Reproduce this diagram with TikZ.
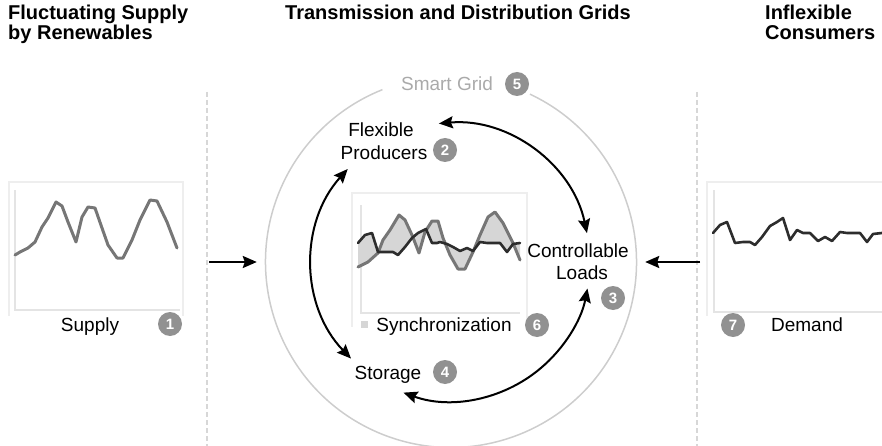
\documentclass[tikz,border=0pt]{standalone}
\usepackage{fontspec}
\setmainfont{Liberation Sans}
\usetikzlibrary{arrows.meta}
\definecolor{circgray}{RGB}{205,205,205}
\definecolor{badgegray}{RGB}{145,145,145}
\definecolor{sgtext}{RGB}{170,170,170}
\definecolor{dashgray}{RGB}{215,215,215}
\definecolor{framegray}{RGB}{238,238,238}
\definecolor{axisgray}{RGB}{228,228,228}
\definecolor{supplygray}{RGB}{118,118,118}
\definecolor{demanddark}{RGB}{45,45,45}
\definecolor{syncfill}{RGB}{214,214,214}
\begin{document}
\begin{tikzpicture}[x=1pt,y=-1pt,
  lbl/.style={font=\fontsize{19}{22}\selectfont, inner sep=0pt, anchor=base},
  headtxt/.style={font=\bfseries\fontsize{20}{20}\selectfont, inner sep=0pt, anchor=base west},
  badge/.style={circle, fill=badgegray, text=white, font=\bfseries\fontsize{15}{15}\selectfont, minimum size=24pt, inner sep=0pt},
  flow/.style={line width=2.2pt, -{Stealth[length=14pt,width=12pt,inset=2pt]}},
  cyc/.style={line width=2pt, {Stealth[length=14pt,width=12pt,inset=2pt]}-{Stealth[length=14pt,width=12pt,inset=2pt]}},
  divider/.style={dashgray, line width=1.5pt, dash pattern=on 5pt off 3pt},
  chartframe/.style={framegray, line width=1.5pt},
  chartaxis/.style={axisgray, line width=1.5pt},
  supplyline/.style={supplygray, line width=3pt, line join=round, line cap=round},
  demandline/.style={demanddark, line width=2.6pt, line join=round, line cap=round},
]
\useasboundingbox (0,0) rectangle (882,446);

% headers
\node[headtxt] (h1a) at (8,20) {Fluctuating Supply};
\node[headtxt] (h1b) at (8,40) {by Renewables};
\node[headtxt] (h2) at (285,20) {Transmission and Distribution Grids};
\node[headtxt] (h3a) at (765,20) {Inflexible};
\node[headtxt] (h3b) at (765,40) {Consumers};

% dividers
\draw[divider] (207,92) -- (207,446);
\draw[divider] (697,92) -- (697,446);

% smart grid circle
\coordinate (c) at (451,262);
\node[circle, minimum size=371pt, inner sep=0pt] (grid) at (c) {};
\begin{scope}[shift={(c)}, y=1pt]
  \draw[circgray, line width=1.5pt] (64.8:185.5) arc[start angle=64.8, end angle=-248.3, radius=185.5];
  \draw[cyc] (95:139) arc[start angle=95, end angle=12, radius=139];
  \draw[cyc] (138:139) arc[start angle=138, end angle=224, radius=139];
  \draw[cyc] (250:139) arc[start angle=250, end angle=349, radius=139];
\end{scope}

% left chart
\draw[chartframe] (9,316) -- (9,182) -- (183,182) -- (183,316);
\draw[chartaxis] (15,190) -- (15,310) -- (180,310);
\draw[supplyline] (15,255) -- (20,252) -- (28,248) -- (35,242) -- (42,227) -- (48,218) -- (56,202) -- (62,206) -- (68,222) -- (76,242) -- (82,217) -- (88,207) -- (95,208) -- (102,228) -- (108,245) -- (117,258) -- (123,258) -- (132,240) -- (140,220) -- (150,200) -- (157,201) -- (167,222) -- (177,248);

% center chart
\draw[chartframe] (352,327) -- (352,193) -- (527,193) -- (527,327);
\draw[chartaxis] (361,205) -- (361,313) -- (520,313);
\fill[syncfill] (358,267) -- (368,262) -- (378,253) -- (383,240) -- (390,230) -- (399,215) -- (405,220) -- (412,235) -- (419,253) -- (425,232) -- (432,221) -- (438,221) -- (443,238) -- (450,255) -- (458,269) -- (465,269) -- (473,252) -- (480,235) -- (488,217) -- (495,212) -- (503,223) -- (513,243) -- (520,260)
  -- (520,243) -- (513,244) -- (507,252) -- (500,243) -- (493,243) -- (487,243) -- (480,242) -- (473,251) -- (467,248) -- (460,251) -- (453,247) -- (447,244) -- (440,242) -- (437,243) -- (432,243) -- (426,229) -- (418,233) -- (412,238) -- (405,247) -- (398,255) -- (393,252) -- (387,252) -- (378,252) -- (372,233) -- (365,235) -- (358,243) -- cycle;
\draw[supplyline] (358,267) -- (368,262) -- (378,253) -- (383,240) -- (390,230) -- (399,215) -- (405,220) -- (412,235) -- (419,253) -- (425,232) -- (432,221) -- (438,221) -- (443,238) -- (450,255) -- (458,269) -- (465,269) -- (473,252) -- (480,235) -- (488,217) -- (495,212) -- (503,223) -- (513,243) -- (520,260);
\draw[demandline] (358,243) -- (365,235) -- (372,233) -- (378,252) -- (387,252) -- (393,252) -- (398,255) -- (405,247) -- (412,238) -- (418,233) -- (426,229) -- (432,243) -- (437,243) -- (440,242) -- (447,244) -- (453,247) -- (460,251) -- (467,248) -- (473,251) -- (480,242) -- (487,243) -- (493,243) -- (500,243) -- (507,252) -- (513,244) -- (520,243);

% right chart
\draw[chartframe] (707,316) -- (707,182) -- (890,182);
\draw[chartaxis] (714,190) -- (714,312) -- (890,312);
\draw[demandline] (713,233) -- (720,225) -- (727,222) -- (735,243) -- (743,242) -- (750,242) -- (755,245) -- (762,237) -- (770,226) -- (777,222) -- (783,218) -- (790,240) -- (797,230) -- (803,233) -- (810,233) -- (818,241) -- (825,237) -- (832,241) -- (840,232) -- (847,233) -- (853,233) -- (860,233) -- (867,242) -- (873,234) -- (882,233) -- (890,233);

% labels
\node[lbl] (supply) at (90,331) {Supply};
\node[lbl] (demand) at (807,331) {Demand};
\node[lbl] (sync) at (444,331) {Synchronization};
\node[fill=syncfill, minimum size=7pt, inner sep=0pt] (syncsq) at (364,324) {};
\node[lbl] (storage) at (388,379) {Storage};
\node[lbl] (flex1) at (381,137) {Flexible};
\node[lbl] (flex2) at (384,160) {Producers};
\node[lbl] (ctrl1) at (578,257) {Controllable};
\node[lbl] (ctrl2) at (582,279) {Loads};
\node[lbl, text=sgtext] (sg) at (447,91) {Smart Grid};

% badges
\node[badge] (b1) at (170,324) {1};
\node[badge] (b2) at (445,150) {2};
\node[badge] (b3) at (613,298) {3};
\node[badge] (b4) at (445,372) {4};
\node[badge] (b5) at (517,84) {5};
\node[badge] (b6) at (537,325) {6};
\node[badge] (b7) at (733,325) {7};

% flows into the grid
\coordinate (lfrom) at (209,262);
\coordinate (rfrom) at (700,262);
\draw[flow, shorten >=8.5pt] (lfrom) -- (grid.west);
\draw[flow, shorten >=8.5pt] (rfrom) -- (grid.east);
\end{tikzpicture}
\end{document}
